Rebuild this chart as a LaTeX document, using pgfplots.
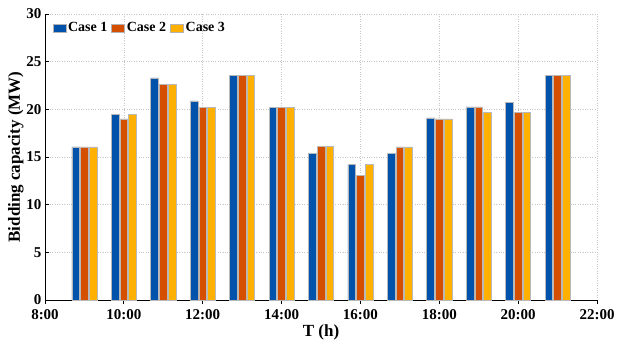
\documentclass[border=0pt]{standalone}
\usepackage{fontspec}
\setmainfont{Liberation Serif}
\usepackage{pgfplots}
\pgfplotsset{compat=1.18}
\definecolor{c1}{RGB}{0,82,170}
\definecolor{c2}{RGB}{212,80,0}
\definecolor{c3}{RGB}{255,176,0}
\begin{document}
\begin{tikzpicture}
\begin{axis}[name=ax, scale only axis, width=552pt, height=286pt,
 xmin=8, xmax=22, ymin=0, ymax=30,
 xtick={8,10,...,22}, xticklabels={8:00,10:00,12:00,14:00,16:00,18:00,20:00,22:00},
 ytick={0,5,...,30},
 axis x line*=bottom, axis y line*=left,
 axis line style={-, black, line width=0.8pt},
 tick align=inside, major tick length=4pt, tick style={black, line width=0.8pt},
 grid=major, grid style={dotted, gray!45, line width=0.7pt},
 ybar=1pt, bar width=7.7pt,
 tick label style={font=\fontsize{15}{18}\selectfont\bfseries},
 xticklabel style={yshift=-2pt},
 label style={font=\fontsize{17}{20}\selectfont\bfseries},
 /pgf/number format/assume math mode=true,
 xlabel={T (h)}, ylabel={Bidding capacity (MW)},
 xlabel style={yshift=2pt},
 ylabel style={yshift=-4pt},
 legend columns=3,
 legend style={at={(0.008,0.985)}, anchor=north west, draw=none, fill=none,
   font=\fontsize{14}{17}\selectfont\bfseries,
   /tikz/every even column/.append style={column sep=2pt}},
 legend image code/.code={\draw[#1, draw=gray!60] (0em,-0.4em) rectangle (1.3em,0.4em);},
]
\addplot[fill=c1, draw=gray!55, line width=0.5pt] coordinates {
(9,16.05) (10,19.5) (11,23.3) (12,20.9) (13,23.6) (14,20.2) (15,15.4) (16,14.2) (17,15.4) (18,19.1) (19,20.25) (20,20.7) (21,23.55)};
\addplot[fill=c2, draw=gray!55, line width=0.5pt] coordinates {
(9,16.05) (10,19.0) (11,22.6) (12,20.2) (13,23.6) (14,20.2) (15,16.1) (16,13.05) (17,16.05) (18,19.0) (19,20.25) (20,19.7) (21,23.55)};
\addplot[fill=c3, draw=gray!55, line width=0.5pt] coordinates {
(9,16.05) (10,19.5) (11,22.6) (12,20.2) (13,23.6) (14,20.2) (15,16.1) (16,14.2) (17,16.05) (18,19.0) (19,19.7) (20,19.7) (21,23.55)};
\legend{Case 1, Case 2, Case 3}
\end{axis}
\pgfresetboundingbox
\path ([xshift=-45pt,yshift=-42pt]ax.south west) rectangle ([xshift=20pt,yshift=14pt]ax.north east);
\end{tikzpicture}
\end{document}
